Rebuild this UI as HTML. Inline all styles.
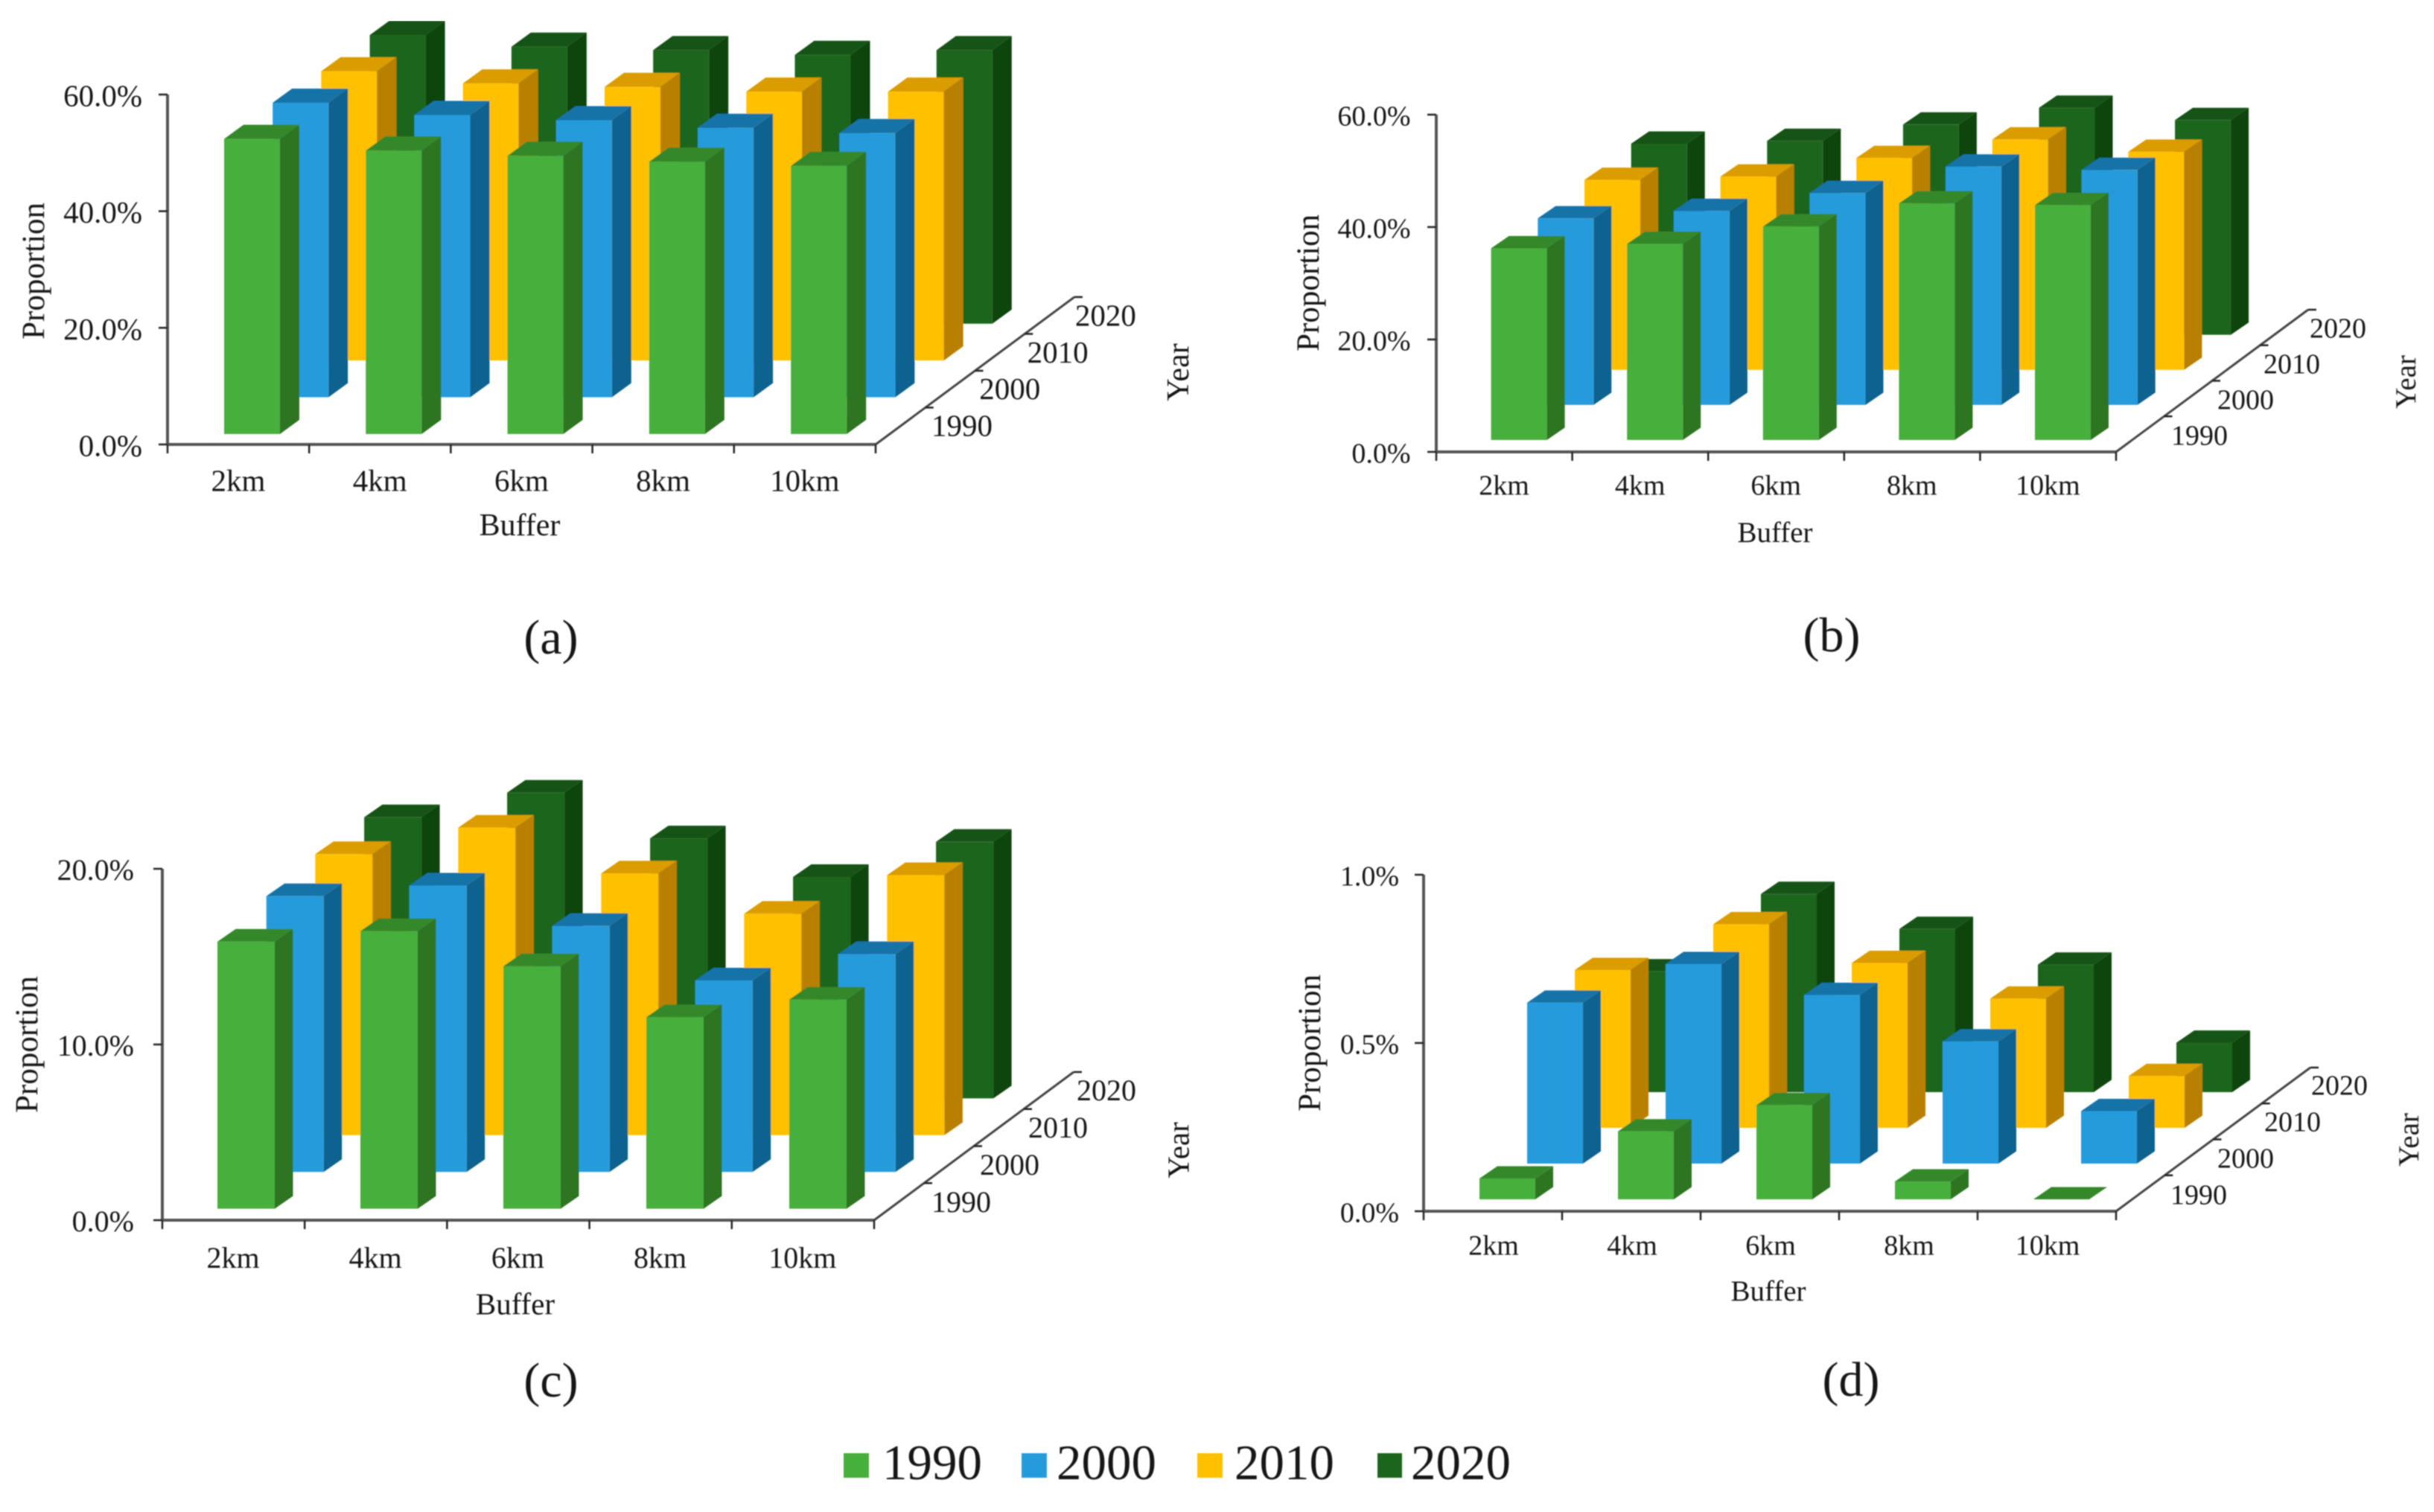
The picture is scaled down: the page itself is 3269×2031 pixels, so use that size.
<!DOCTYPE html>
<html>
<head>
<meta charset="utf-8">
<title>Proportion by buffer and year</title>
<style>
html,body{margin:0;padding:0;background:#fff;}
svg{display:block;}
text{font-family:"Liberation Serif",serif;fill:#161616;}
</style>
</head>
<body>
<svg id="root" xmlns="http://www.w3.org/2000/svg" width="3269" height="2031" viewBox="0 0 3269 2031">
<defs><filter id="soft" x="0" y="0" width="100%" height="100%"><feGaussianBlur stdDeviation="0.9"/></filter></defs>
<rect x="0" y="0" width="3269" height="2031" fill="#ffffff"/>
<g id="stage" filter="url(#soft)">
<g>
<g><rect x="1133" y="1952" width="34" height="33" fill="#46AF3B"/><text x="1185" y="1987" font-size="67">1990</text></g>
<g><rect x="1372" y="1952" width="34" height="33" fill="#259BDC"/><text x="1419" y="1987" font-size="67">2000</text></g>
<g><rect x="1608" y="1952" width="34" height="33" fill="#FFC000"/><text x="1658" y="1987" font-size="67">2010</text></g>
<g><rect x="1850" y="1952" width="33" height="33" fill="#1F651A"/><text x="1895" y="1987" font-size="67">2020</text></g>
</g>
</g>
</svg>
<script>
// ---- shared categories ----
const categories = ['2km', '4km', '6km', '8km', '10km'];
const years = ['1990', '2000', '2010', '2020'];

// ---- panel (a) values, percent ----
const panelA1990 = [50.6, 48.6, 47.7, 46.7, 46.0];
const panelA2000 = [50.5, 48.4, 47.5, 46.2, 45.3];
const panelA2010 = [49.6, 47.5, 46.9, 46.1, 46.1];
const panelA2020 = [49.5, 47.5, 46.9, 46.1, 46.9];
const panelATickValues = [0, 20, 40, 60];
const panelATickLabels = ['0.0%', '20.0%', '40.0%', '60.0%'];

// ---- panel (b) values, percent ----
const panelB1990 = [34.1, 34.9, 38.0, 42.1, 41.8];
const panelB2000 = [33.2, 34.5, 37.7, 42.4, 41.8];
const panelB2010 = [33.8, 34.4, 37.7, 41.0, 38.8];
const panelB2020 = [34.0, 34.5, 37.4, 40.4, 38.2];
const panelBTickValues = [0, 20, 40, 60];
const panelBTickLabels = ['0.0%', '20.0%', '40.0%', '60.0%'];

// ---- panel (c) values, percent ----
const panelC1990 = [15.2, 15.8, 13.8, 10.9, 11.9];
const panelC2000 = [15.7, 16.3, 14.0, 10.9, 12.4];
const panelC2010 = [16.0, 17.5, 14.9, 12.6, 14.8];
const panelC2020 = [16.0, 17.4, 14.8, 12.6, 14.6];
const panelCTickValues = [0, 10, 20];
const panelCTickLabels = ['0.0%', '10.0%', '20.0%'];

// ---- panel (d) values, percent ----
const panelD1990 = [0.062, 0.202, 0.28, 0.053, 0];
const panelD2000 = [0.478, 0.593, 0.501, 0.363, 0.156];
const panelD2010 = [0.469, 0.605, 0.49, 0.384, 0.154];
const panelD2020 = [0.359, 0.589, 0.485, 0.379, 0.147];
const panelDTickValues = [0, 0.5, 1];
const panelDTickLabels = ['0.0%', '0.5%', '1.0%'];

// ---- styles per year (front, side, top) ----
const yearStyles = [
  {front: '#46AF3B', side: '#2D7521', top: '#36882B'},
  {front: '#259BDC', side: '#0F6290', top: '#1473A8'},
  {front: '#FFC000', side: '#B98000', top: '#DB9C00'},
  {front: '#1F651A', side: '#10440B', top: '#185218'}
];

// ---- layout per panel ----
const panels = [
  {id: 'a', caption: '(a)', series: [panelA1990, panelA2000, panelA2010, panelA2020], tickValues: panelATickValues, tickLabels: panelATickLabels,
   axisX: 225, y0: 597, yTop: 127, yMax: 60, xEnd: 1176, depthEnd: [1443, 399], tickStep: 190.2,
   barX: 301, barY: 583, stepX: 190.3, barW: 75, dx: 26, dy: 19, rowDX: 65.2, rowDY: 49.4,
   tickRight: 191, fs: 41, catY: 646, catX: 320, buffer: [698, 705], prop: [45, 364], year: [1582, 500],
   yearLabel: [1292, 572], yearStep: [64.3, -49.3], cap: [740, 856]},
  {id: 'b', caption: '(b)', series: [panelB1990, panelB2000, panelB2010, panelB2020], tickValues: panelBTickValues, tickLabels: panelBTickLabels,
   axisX: 1929, y0: 607, yTop: 154, yMax: 60, xEnd: 2842, depthEnd: [3100, 416], tickStep: 182.6,
   barX: 2002.6, barY: 591, stepX: 182.6, barW: 75, dx: 24, dy: 16.5, rowDX: 62.7, rowDY: 47.1,
   tickRight: 1894.5, fs: 38, catY: 652, catX: 2020, buffer: [2384, 715], prop: [1757, 380], year: [3231, 513],
   yearLabel: [2954, 585], yearStep: [62, -48], cap: [2460, 853]},
  {id: 'c', caption: '(c)', series: [panelC1990, panelC2000, panelC2010, panelC2020], tickValues: panelCTickValues, tickLabels: panelCTickLabels,
   axisX: 218, y0: 1639, yTop: 1167, yMax: 20, xEnd: 1174, depthEnd: [1442, 1440], tickStep: 191.2,
   barX: 292, barY: 1623.6, stepX: 192, barW: 77, dx: 24.5, dy: 17, rowDX: 65.7, rowDY: 49.4,
   tickRight: 180, fs: 40, catY: 1690, catX: 313, buffer: [692, 1752], prop: [36, 1403], year: [1583, 1545],
   yearLabel: [1291, 1615], yearStep: [65, -50], cap: [740, 1854]},
  {id: 'd', caption: '(d)', series: [panelD1990, panelD2000, panelD2010, panelD2020], tickValues: panelDTickValues, tickLabels: panelDTickLabels,
   axisX: 1912, y0: 1627, yTop: 1175, yMax: 1, xEnd: 2842, depthEnd: [3103, 1434], tickStep: 186,
   barX: 1987, barY: 1611, stepX: 186, barW: 75, dx: 24, dy: 16.5, rowDX: 64, rowDY: 48,
   tickRight: 1879, fs: 38, catY: 1673, catX: 2006, buffer: [2375, 1734], prop: [1759, 1401], year: [3235, 1531],
   yearLabel: [2953, 1605], yearStep: [63, -49], cap: [2486, 1853]}
];

const NS = 'http://www.w3.org/2000/svg';
const stage = document.getElementById('stage');

function make(tag, parent, attrs) {
  const el = document.createElementNS(NS, tag);
  for (const k in attrs) el.setAttribute(k, attrs[k]);
  parent.appendChild(el);
  return el;
}
function label(parent, str, x, y, size, anchor, rotate) {
  const base = y + size * 0.33;
  const attrs = {x: x, y: base, 'font-size': size, 'text-anchor': anchor};
  if (rotate) {
    attrs.x = x + size * 0.33;
    attrs.y = y;
    attrs.transform = 'rotate(-90 ' + (x + size * 0.33) + ' ' + y + ')';
  }
  const el = make('text', parent, attrs);
  el.textContent = str;
  return el;
}
function poly(parent, pts, fill) {
  return make('polygon', parent, {points: pts.map(function (p) { return p[0].toFixed(1) + ',' + p[1].toFixed(1); }).join(' '), fill: fill});
}

panels.forEach(function (p) {
  const yScale = function (v) { return v / p.yMax * (p.y0 - p.yTop); };
  const xScale = function (i, row) { return p.barX + i * p.stepX + row * p.rowDX; };
  const baseScale = function (row) { return p.barY - row * p.rowDY; };

  const g = make('g', stage, {});
  
  

  // bars, back row first
  for (let row = p.series.length - 1; row >= 0; row--) {
    p.series[row].forEach(function (v, i) {
      const x = xScale(i, row), b = baseScale(row), t = b - yScale(v), s = yearStyles[row];
      const bar = make('g', g, {});
      
      
      poly(bar, [[x + p.barW, b], [x + p.barW + p.dx, b - p.dy], [x + p.barW + p.dx, t - p.dy], [x + p.barW, t]], s.side);
      poly(bar, [[x, t], [x + p.barW, t], [x + p.barW + p.dx, t - p.dy], [x + p.dx, t - p.dy]], s.top);
      make('rect', bar, {x: x, y: t, width: p.barW, height: Math.max(b - t, 0), fill: s.front});
    });
  }

  // axes
  const axisStyle = {stroke: '#555555', 'stroke-width': 4, fill: 'none'};
  const yAxis = make('line', g, Object.assign({x1: p.axisX, y1: p.yTop, x2: p.axisX, y2: p.y0}, axisStyle));
  
  
  const xAxis = make('line', g, Object.assign({x1: p.axisX, y1: p.y0, x2: p.xEnd, y2: p.y0}, axisStyle));
  
  
  const depthAxis = make('line', g, {x1: p.xEnd, y1: p.y0, x2: p.depthEnd[0], y2: p.depthEnd[1], stroke: '#444', 'stroke-width': 3});
  
  

  // y ticks and labels
  p.tickValues.forEach(function (v, i) {
    const y = p.y0 - yScale(v);
    const tick = make('line', g, {x1: p.axisX - 12, y1: y, x2: p.axisX, y2: y, stroke: '#222', 'stroke-width': 2.5});
    
    
    const t = label(g, p.tickLabels[i], p.tickRight, y + 2, p.fs, 'end');
    
    
  });

  // x ticks and labels
  for (let i = 0; i <= categories.length; i++) {
    const x = p.axisX + i * p.tickStep;
    const tick = make('line', g, {x1: x, y1: p.y0, x2: x, y2: p.y0 + 12, stroke: '#222', 'stroke-width': 2.5});
    
    
  }
  categories.forEach(function (c, i) {
    const t = label(g, c, p.catX + i * p.tickStep, p.catY, p.fs, 'middle');
    
    
  });

  // depth ticks and labels
  years.forEach(function (y, i) {
    const f = (i + 1) / years.length;
    const tx = p.xEnd + f * (p.depthEnd[0] - p.xEnd), ty = p.y0 + f * (p.depthEnd[1] - p.y0);
    const tick = make('line', g, {x1: tx, y1: ty, x2: tx + 11, y2: ty, stroke: '#222', 'stroke-width': 2.5});
    
    
    const t = label(g, y, p.yearLabel[0] + i * p.yearStep[0], p.yearLabel[1] + i * p.yearStep[1], p.fs, 'middle');
    
    
  });

  // titles
  const buffer = label(g, 'Buffer', p.buffer[0], p.buffer[1], p.fs + 1, 'middle');
  
  
  const prop = label(g, 'Proportion', p.prop[0], p.prop[1], 43, 'middle', true);
  
  
  const year = label(g, 'Year', p.year[0], p.year[1], p.fs + 1, 'middle', true);
  
  
  const cap = label(g, p.caption, p.cap[0], p.cap[1], 66, 'middle');
  
  
});
</script>
</body>
</html>
